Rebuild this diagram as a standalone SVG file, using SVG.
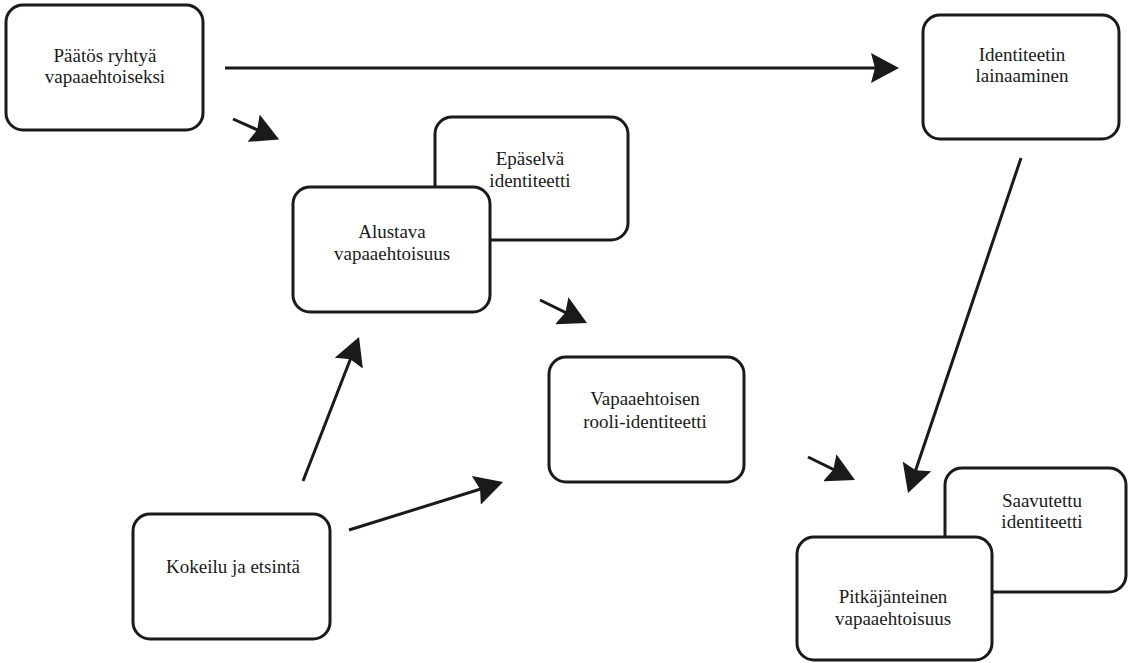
<svg xmlns="http://www.w3.org/2000/svg" width="1128" height="663" viewBox="0 0 1128 663">
<style>
.box{fill:#ffffff;stroke:#1a1a1a;stroke-width:3}
.lbl{font-family:'Liberation Serif','DejaVu Serif',serif;font-size:19px;fill:#1a1a1a;text-anchor:middle}
.conn{stroke:#1a1a1a;stroke-width:3;fill:none;marker-end:url(#ah)}
</style>
<defs>
<marker id="ah" markerUnits="userSpaceOnUse" viewBox="0 0 28 30" refX="18" refY="15" markerWidth="28" markerHeight="30" orient="auto">
<path d="M0,0 L28,15 L0,30 L4,15 Z" fill="#1a1a1a"/>
</marker>
</defs>
<rect width="1128" height="663" fill="#ffffff"/>
<g id="connectors">
<line class="conn" x1="225" y1="68" x2="889" y2="68"/>
<line class="conn" x1="233" y1="119" x2="270" y2="135.5"/>
<line class="conn" x1="540" y1="300" x2="578" y2="318.6"/>
<line class="conn" x1="808" y1="457" x2="846" y2="475.6"/>
<line class="conn" x1="1021" y1="158" x2="911.2" y2="483.5"/>
<line class="conn" x1="303" y1="481" x2="355.4" y2="346.3"/>
<line class="conn" x1="349" y1="530" x2="493.5" y2="485"/>
</g>
<g id="node-paatos">
<rect class="box" x="6" y="5" width="197" height="125" rx="17"/>
<text class="lbl" font-family="Liberation Serif" x="105" y="62">Päätös ryhtyä</text>
<text class="lbl" font-family="Liberation Serif" x="105" y="83">vapaaehtoiseksi</text>
</g>
<g id="node-identiteetin">
<rect class="box" x="923" y="15" width="196" height="124" rx="17"/>
<text class="lbl" x="1022" y="61">Identiteetin</text>
<text class="lbl" x="1022" y="82">lainaaminen</text>
</g>
<g id="node-epaselva">
<rect class="box" x="435" y="117" width="193" height="123" rx="17"/>
<text class="lbl" x="530" y="165">Epäselvä</text>
<text class="lbl" x="530" y="187">identiteetti</text>
</g>
<g id="node-alustava">
<rect class="box" x="293" y="187" width="197" height="125" rx="17"/>
<text class="lbl" x="392" y="238">Alustava</text>
<text class="lbl" x="392" y="260">vapaaehtoisuus</text>
</g>
<g id="node-vapaaehtoisen">
<rect class="box" x="549" y="357" width="195" height="125" rx="17"/>
<text class="lbl" x="645" y="405">Vapaaehtoisen</text>
<text class="lbl" x="645" y="428">rooli-identiteetti</text>
</g>
<g id="node-saavutettu">
<rect class="box" x="945" y="468" width="181" height="124" rx="17"/>
<text class="lbl" x="1042" y="507">Saavutettu</text>
<text class="lbl" x="1042" y="528">identiteetti</text>
</g>
<g id="node-pitkajanteinen">
<rect class="box" x="797" y="537" width="195" height="123" rx="17"/>
<text class="lbl" x="893" y="603">Pitkäjänteinen</text>
<text class="lbl" x="893" y="625">vapaaehtoisuus</text>
</g>
<g id="node-kokeilu">
<rect class="box" x="133" y="514" width="197" height="125" rx="17"/>
<text class="lbl" x="233" y="573">Kokeilu ja etsintä</text>
</g>
</svg>
